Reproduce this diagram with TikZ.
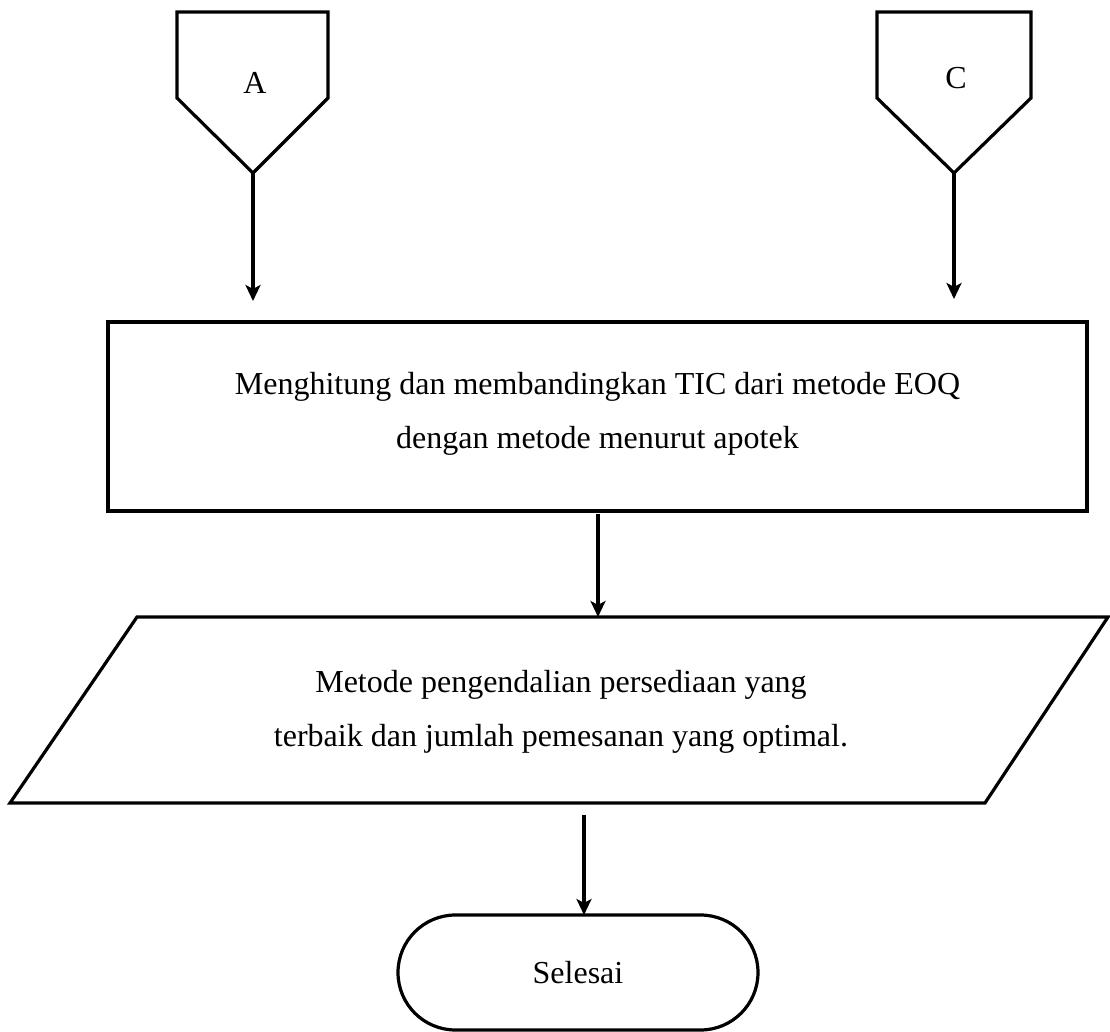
\documentclass[tikz,border=0pt]{standalone}
\usepackage{fontspec}
\setmainfont{Liberation Serif}
\usetikzlibrary{arrows.meta,shapes.misc}
\tikzset{
  shapeline/.style={line width=1.6pt, line join=miter},
  flowarrow/.style={line width=1.7pt, -{Stealth[length=8pt,width=7.5pt,inset=2pt]}},
  txt/.style={font=\fontsize{16}{27}\selectfont, align=center, inner sep=0pt},
}
\begin{document}
\begin{tikzpicture}[x=0.5pt,y=-0.5pt]
\useasboundingbox (0,0) rectangle (1110,1032);
% off-page connector A
\draw[shapeline] (177,12) -- (328,12) -- (328,98) -- (253,173) -- (177,98) -- cycle;
\coordinate (Ap) at (253,173);
\node[txt] (A) at (255,83) {A};
% off-page connector C
\draw[shapeline] (877,12) -- (1031,12) -- (1031,98) -- (954,173) -- (877,98) -- cycle;
\coordinate (Cp) at (954,173);
\node[txt] (C) at (956,78) {C};
% process box
\node[draw, shapeline, minimum width=489.5pt, minimum height=94.5pt, inner sep=0pt] (R) at (597.5,416.5) {};
\node[txt] (Rt) at (597.5,414) {Menghitung dan membandingkan TIC dari metode EOQ\\dengan metode menurut apotek};
% data parallelogram
\coordinate (P1) at (137,617);
\coordinate (P2) at (1108,617);
\coordinate (P3) at (985,803);
\coordinate (P4) at (10,803);
\draw[shapeline] (P1) -- (P2) -- (P3) -- (P4) -- cycle;
\node[txt] (Pt) at (561,712) {Metode pengendalian persediaan yang\\terbaik dan jumlah pemesanan yang optimal.};
% terminal
\node[draw, shapeline, rounded rectangle, minimum width=180pt, minimum height=57.5pt, inner sep=0pt, font=\fontsize{16}{18}\selectfont] (T) at (578,972.5) {Selesai};
% arrows
\coordinate (Ae) at (253,301);
\coordinate (Ce) at (954,299);
\coordinate (Rs) at (598,514);
\coordinate (Re) at (598,617);
\coordinate (Ps) at (584,815);
\coordinate (Te) at (584,915);
\draw[flowarrow] (Ap) -- (Ae);
\draw[flowarrow] (Cp) -- (Ce);
\draw[flowarrow] (Rs) -- (Re);
\draw[flowarrow] (Ps) -- (Te);
\end{tikzpicture}
\end{document}
